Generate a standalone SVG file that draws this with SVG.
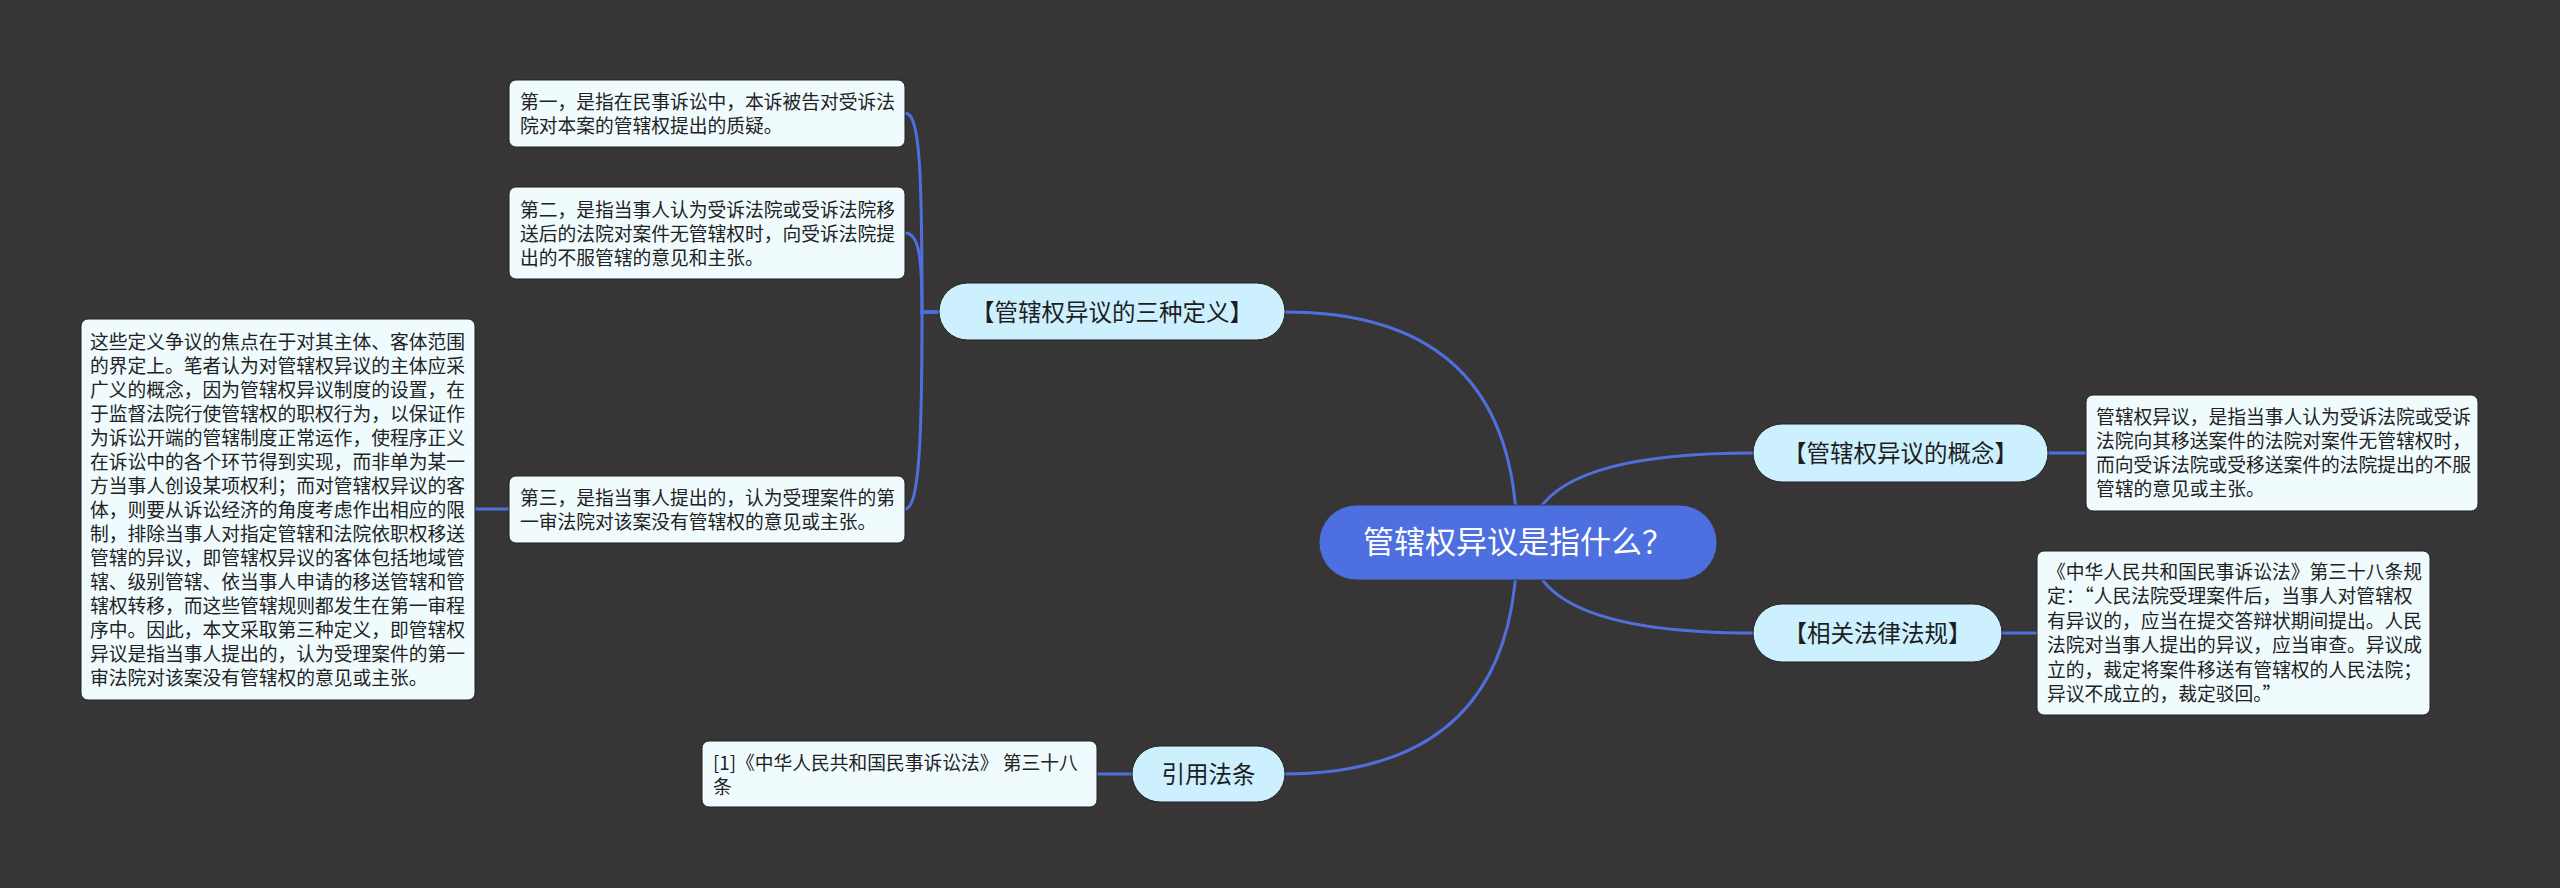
<svg xmlns="http://www.w3.org/2000/svg" width="2560" height="888" viewBox="0 0 2560 888">
<style>
.bg{fill:#373536}
.line{fill:none;stroke:#4f6fdc;stroke-width:3;stroke-linecap:round}
.central rect{fill:#4e6fe0;stroke:#3a3a3a;stroke-width:1}
.central text{fill:#ffffff;font-family:"Noto Sans CJK SC","Noto Sans",sans-serif;font-size:31px;text-anchor:middle}
.branch rect{fill:#ccf0fe;stroke:#222;stroke-width:1}
.branch text{fill:#1e1e1e;font-family:"Noto Sans CJK SC","Noto Sans",sans-serif;font-size:23.5px;text-anchor:middle}
.sub rect{fill:#f0fbfe;stroke:#222;stroke-width:1}
.sub text{fill:#222222;font-family:"Noto Sans CJK SC","Noto Sans",sans-serif;font-size:18.75px}
</style>
<rect class="bg" x="0" y="0" width="2560" height="888"/>
<g id="connectors">
<path class="line" d="M1517 542 Q1517 312 1285 312"/>
<path class="line" d="M1530 542 Q1530 453 1753 453"/>
<path class="line" d="M1530 542 Q1530 633 1753 633"/>
<path class="line" d="M1517 542 Q1517 774 1283 774"/>
<path class="line" d="M939 312 H922 C922 170 920 113 905 113"/>
<path class="line" d="M939 312 H922 C922 262 920 233 905 233"/>
<path class="line" d="M939 312 H922 C922 430 920 509 905 509"/>
<path class="line" d="M509 509 H475"/>
<path class="line" d="M2048 453 H2086"/>
<path class="line" d="M2002 633 H2037"/>
<path class="line" d="M1132 774 H1097"/>
</g>
<g id="central" class="central">
<rect x="1319" y="505" width="398" height="75" rx="37.5"/>
<text x="1518" y="553">管辖权异议是指什么？</text>
</g>
<g id="branch-definitions" class="branch">
<rect x="939" y="283" width="346" height="57" rx="28.5"/>
<text x="1112" y="320.5">【管辖权异议的三种定义】</text>
</g>
<g id="branch-concept" class="branch">
<rect x="1753" y="424" width="295" height="58" rx="29"/>
<text x="1900.5" y="462">【管辖权异议的概念】</text>
</g>
<g id="branch-law" class="branch">
<rect x="1753" y="604" width="249" height="58" rx="29"/>
<text x="1877.5" y="642">【相关法律法规】</text>
</g>
<g id="branch-cite" class="branch">
<rect x="1132" y="746" width="153" height="56" rx="28"/>
<text x="1208.5" y="783">引用法条</text>
</g>
<g id="def1" class="sub">
<rect x="509" y="80" width="396" height="67" rx="7"/>
<text x="520"><tspan x="520" y="108.5">第一，是指在民事诉讼中，本诉被告对受诉法</tspan><tspan x="520" y="132.5">院对本案的管辖权提出的质疑。</tspan></text>
</g>
<g id="def2" class="sub">
<rect x="509" y="187" width="396" height="92" rx="7"/>
<text x="520"><tspan x="520" y="216.5">第二，是指当事人认为受诉法院或受诉法院移</tspan><tspan x="520" y="240.5">送后的法院对案件无管辖权时，向受诉法院提</tspan><tspan x="520" y="264.5">出的不服管辖的意见和主张。</tspan></text>
</g>
<g id="def3" class="sub">
<rect x="509" y="476" width="396" height="67" rx="7"/>
<text x="520"><tspan x="520" y="504.5">第三，是指当事人提出的，认为受理案件的第</tspan><tspan x="520" y="528.5">一审法院对该案没有管辖权的意见或主张。</tspan></text>
</g>
<g id="def3-note" class="sub">
<rect x="81" y="319" width="394" height="381" rx="7"/>
<text x="90">
<tspan x="90" y="348.5">这些定义争议的焦点在于对其主体、客体范围</tspan>
<tspan x="90" y="372.5">的界定上。笔者认为对管辖权异议的主体应采</tspan>
<tspan x="90" y="396.5">广义的概念，因为管辖权异议制度的设置，在</tspan>
<tspan x="90" y="420.5">于监督法院行使管辖权的职权行为，以保证作</tspan>
<tspan x="90" y="444.5">为诉讼开端的管辖制度正常运作，使程序正义</tspan>
<tspan x="90" y="468.5">在诉讼中的各个环节得到实现，而非单为某一</tspan>
<tspan x="90" y="492.5">方当事人创设某项权利；而对管辖权异议的客</tspan>
<tspan x="90" y="516.5">体，则要从诉讼经济的角度考虑作出相应的限</tspan>
<tspan x="90" y="540.5">制，排除当事人对指定管辖和法院依职权移送</tspan>
<tspan x="90" y="564.5">管辖的异议，即管辖权异议的客体包括地域管</tspan>
<tspan x="90" y="588.5">辖、级别管辖、依当事人申请的移送管辖和管</tspan>
<tspan x="90" y="612.5">辖权转移，而这些管辖规则都发生在第一审程</tspan>
<tspan x="90" y="636.5">序中。因此，本文采取第三种定义，即管辖权</tspan>
<tspan x="90" y="660.5">异议是指当事人提出的，认为受理案件的第一</tspan>
<tspan x="90" y="684.5">审法院对该案没有管辖权的意见或主张。</tspan>
</text>
</g>
<g id="concept-text" class="sub">
<rect x="2086" y="395" width="392" height="116" rx="7"/>
<text x="2096">
<tspan x="2096" y="424">管辖权异议，是指当事人认为受诉法院或受诉</tspan>
<tspan x="2096" y="448">法院向其移送案件的法院对案件无管辖权时，</tspan>
<tspan x="2096" y="472">而向受诉法院或受移送案件的法院提出的不服</tspan>
<tspan x="2096" y="496">管辖的意见或主张。</tspan>
</text>
</g>
<g id="law-text" class="sub">
<rect x="2037" y="551" width="393" height="164" rx="7"/>
<text x="2047">
<tspan x="2047" y="579">《中华人民共和国民事诉讼法》第三十八条规</tspan>
<tspan x="2047" y="603.4">定：“人民法院受理案件后，当事人对管辖权</tspan>
<tspan x="2047" y="627.8">有异议的，应当在提交答辩状期间提出。人民</tspan>
<tspan x="2047" y="652.2">法院对当事人提出的异议，应当审查。异议成</tspan>
<tspan x="2047" y="676.6">立的，裁定将案件移送有管辖权的人民法院；</tspan>
<tspan x="2047" y="701">异议不成立的，裁定驳回。”</tspan>
</text>
</g>
<g id="cite-text" class="sub">
<rect x="702" y="741" width="395" height="66" rx="7"/>
<text x="713"><tspan x="713" y="770">[1]《中华人民共和国民事诉讼法》 第三十八</tspan><tspan x="713" y="794">条</tspan></text>
</g>
</svg>
